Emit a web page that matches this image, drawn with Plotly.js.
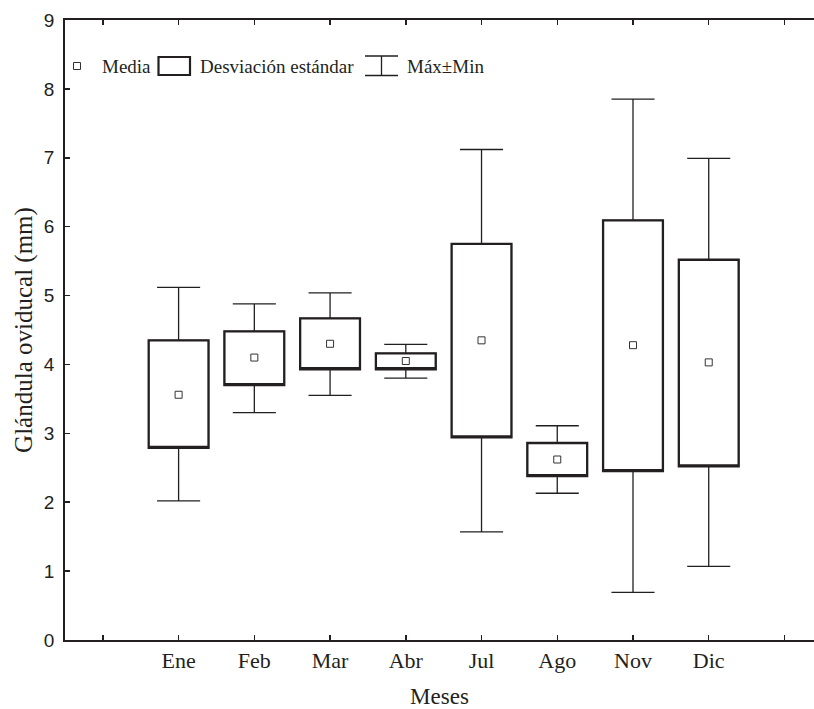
<!DOCTYPE html>
<html>
<head>
<meta charset="utf-8">
<script src="https://cdn.plot.ly/plotly-3.0.1.min.js"></script>
<style>html,body{margin:0;padding:0;background:#fff;}#chart{width:814px;height:709px;}</style>
</head>
<body>
<div id="chart"></div>
<script>
// Data
var months = ['Ene', 'Feb', 'Mar', 'Abr', 'Jul', 'Ago', 'Nov', 'Dic'];
var positions = [0, 1, 2, 3, 4, 5, 6, 7];
var maxVals = [5.12, 4.88, 5.04, 4.29, 7.12, 3.11, 7.85, 6.99];
var sdUpper = [4.35, 4.48, 4.67, 4.16, 5.75, 2.86, 6.09, 5.52];
var means   = [3.56, 4.10, 4.30, 4.05, 4.35, 2.62, 4.28, 4.03];
var sdLower = [2.79, 3.70, 3.93, 3.93, 2.94, 2.38, 2.45, 2.52];
var minVals = [2.02, 3.30, 3.55, 3.80, 1.57, 2.13, 0.69, 1.07];
var tickPositions = [-1, 0, 1, 2, 3, 4, 5, 6, 7, 8];
var tickLabels = ['', 'Ene', 'Feb', 'Mar', 'Abr', 'Jul', 'Ago', 'Nov', 'Dic', ''];
var yTicks = [0, 1, 2, 3, 4, 5, 6, 7, 8, 9];

var ink = '#231f20';
var serif = 'Liberation Serif, Times New Roman, serif';
var sans = 'Liberation Sans, Arial, sans-serif';

var whiskers = {
  type: 'box', x: positions,
  q1: sdLower, median: sdLower, q3: sdUpper,
  lowerfence: minVals, upperfence: maxVals,
  width: 0.79, whiskerwidth: 0.72,
  line: {color: ink, width: 1.3}, fillcolor: '#ffffff',
  boxpoints: false, showlegend: false, hoverinfo: 'skip'
};
var boxes = {
  type: 'box', x: positions,
  q1: sdLower, median: sdLower, q3: sdUpper,
  lowerfence: sdLower, upperfence: sdUpper,
  width: 0.79, whiskerwidth: 0,
  line: {color: ink, width: 2.3}, fillcolor: '#ffffff',
  boxpoints: false, showlegend: false, hoverinfo: 'skip'
};
var meanPts = {
  type: 'scatter', mode: 'markers', x: positions, y: means,
  marker: {symbol: 'square-open', size: 7, color: '#333333', line: {width: 1, color: '#333333'}},
  showlegend: false, hoverinfo: 'skip'
};

// legend built from paper-coordinate glyphs
var L = 65, W = 749, B = 640, H = 620;
function px(x) { return (x - L) / W; }
function py(y) { return (B - y) / H; }
var legendShapes = [
  {type: 'rect', xref: 'paper', yref: 'paper', x0: px(73.5), x1: px(80.5), y0: py(69.5), y1: py(62.5), line: {color: '#333', width: 1}, fillcolor: '#fff'},
  {type: 'rect', xref: 'paper', yref: 'paper', x0: px(158.5), x1: px(190), y0: py(75), y1: py(57), line: {color: ink, width: 2.2}, fillcolor: '#fff'},
  {type: 'line', xref: 'paper', yref: 'paper', x0: px(365), x1: px(398), y0: py(56), y1: py(56), line: {color: ink, width: 1.3}},
  {type: 'line', xref: 'paper', yref: 'paper', x0: px(365), x1: px(398), y0: py(75.5), y1: py(75.5), line: {color: ink, width: 1.3}},
  {type: 'line', xref: 'paper', yref: 'paper', x0: px(381.5), x1: px(381.5), y0: py(56), y1: py(75.5), line: {color: ink, width: 1.3}}
];
var legendTexts = [
  {text: 'Media', x: px(100)},
  {text: 'Desviación estándar', x: px(198)},
  {text: 'Máx±Min', x: px(405)}
].map(function (d) {
  return {text: d.text, xref: 'paper', yref: 'paper', x: d.x, y: py(66), xanchor: 'left', yanchor: 'middle',
          showarrow: false, font: {family: serif, size: 19, color: ink}};
});

var layout = {
  width: 814, height: 709,
  margin: {l: 65, r: 0, t: 20, b: 69},
  paper_bgcolor: '#ffffff', plot_bgcolor: '#ffffff',
  boxmode: 'overlay',
  showlegend: false,
  xaxis: {
    range: [-1.5, 8.39], tickmode: 'array', tickvals: tickPositions, ticktext: tickLabels,
    ticks: 'inside', ticklen: 5, tickwidth: 1.5, tickcolor: ink,
    showline: true, linecolor: ink, linewidth: 1.8, mirror: 'ticks',
    showgrid: false, zeroline: false,
    tickfont: {family: serif, size: 22, color: ink},
    title: {text: 'Meses', font: {family: serif, size: 23, color: ink}, standoff: 16}
  },
  yaxis: {
    range: [0, 9], tickmode: 'array', tickvals: yTicks,
    ticks: 'inside', ticklen: 5, tickwidth: 1.5, tickcolor: ink,
    showline: true, linecolor: ink, linewidth: 1.8,
    showgrid: false, zeroline: false, ticklabelstandoff: 5,
    tickfont: {family: sans, size: 19, color: ink},
    title: {text: 'Glándula oviducal (mm)', font: {family: serif, size: 25, color: ink}, standoff: 4}
  },
  shapes: legendShapes,
  annotations: legendTexts
};

Plotly.newPlot('chart', [whiskers, boxes, meanPts], layout, {staticPlot: true, displayModeBar: false});
</script>
</body>
</html>
